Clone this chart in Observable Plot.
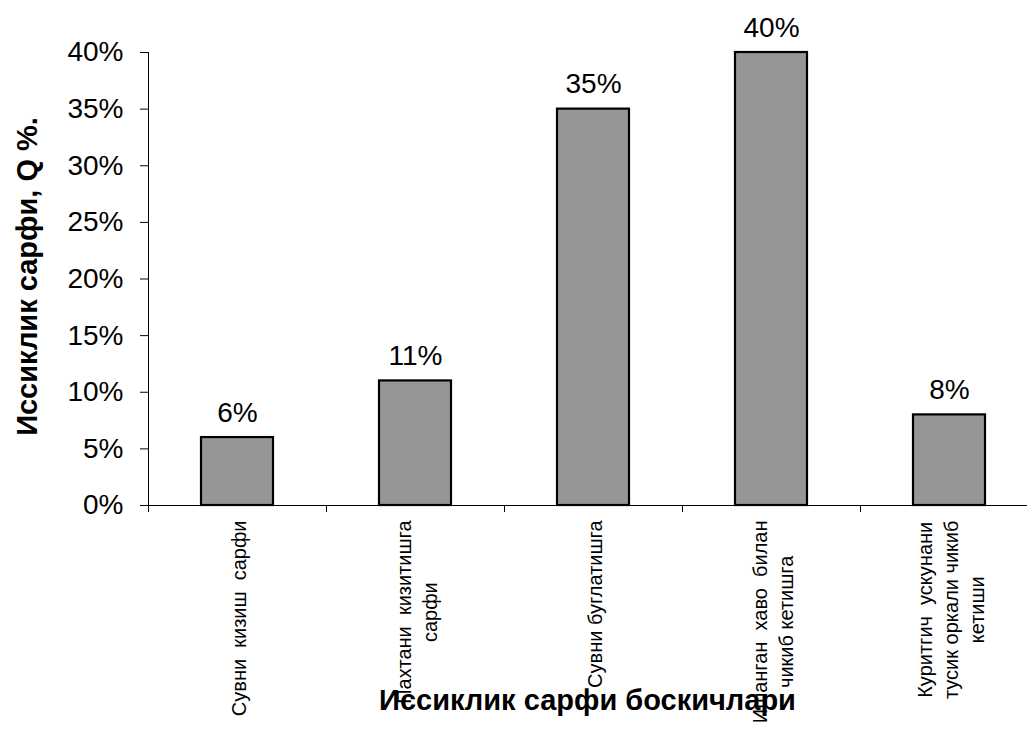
<!DOCTYPE html>
<html>
<head>
<meta charset="utf-8">
<script src="https://cdn.jsdelivr.net/npm/d3@7"></script>
<script src="https://cdn.jsdelivr.net/npm/@observablehq/plot@0.6"></script>
<style>
  html, body { margin: 0; padding: 0; background: #fff; }
  #chart svg { display: block; }
  #chart text { white-space: pre; }
</style>
</head>
<body>
<div id="chart"></div>
<script>
// Heat consumption by stage, %
const categories = [
  "Сувни  кизиш  сарфи",
  "Пахтани  кизитишга\nсарфи",
  "Сувни буглатишга",
  "Ишанган  хаво  билан\nчикиб кетишга",
  "Куритгич  ускунани\nтусик оркали чикиб\nкетиши"
];
const values = [6, 11, 35, 40, 8];
const yTicks = [0, 5, 10, 15, 20, 25, 30, 35, 40];
const bandEdges = [0, 1, 2, 3, 4, 5];
const yTitle = "Иссиклик сарфи, Q %.";
const xTitle = "Иссиклик сарфи боскичлари";

const font = "Liberation Sans, Arial, Helvetica, sans-serif";
const W = 1027, H = 731;
const mLeft = 148, mRight = -11, mTop = 52, mBottom = 226;
const frameMidX = (mLeft + (W - mRight)) / 2;
const frameMidY = (mTop + (H - mBottom)) / 2;

const labelSize = 20;
const ctx = document.createElement("canvas").getContext("2d");
ctx.font = `${labelSize}px "Liberation Sans"`;
const widest = (s) => d3.max(s.split("\n"), (l) => ctx.measureText(l).width);

const rows = values.map((v, i) => ({i, v}));

const chart = Plot.plot({
  width: W,
  height: H,
  marginLeft: mLeft,
  marginRight: mRight,
  marginTop: mTop,
  marginBottom: mBottom,
  style: {fontFamily: font, background: "#fff", color: "#000"},
  x: {type: "linear", domain: [0, categories.length], axis: null},
  y: {domain: [0, 40], axis: null},
  marks: [
    Plot.rectY(rows, {
      x1: "i", x2: (d) => d.i + 1, y1: 0, y2: "v",
      insetLeft: 53, insetRight: 53,
      fill: "#969696", stroke: "#000", strokeWidth: 2.2
    }),
    Plot.ruleY([0], {stroke: "#000", strokeWidth: 1}),
    Plot.ruleX([0], {stroke: "#000", strokeWidth: 1}),
    Plot.axisY({
      ticks: yTicks, tickSize: 8, tickPadding: 17,
      tickFormat: (d) => d + "%", fontSize: 28, label: null, stroke: "#000"
    }),
    Plot.axisX({
      ticks: bandEdges, tickSize: 7, tickFormat: () => "", label: null, stroke: "#000"
    }),
    Plot.text(rows, {
      x: (d) => d.i + 0.5, y: "v", text: (d) => d.v + "%",
      lineAnchor: "bottom", dy: -16, fontSize: 28, fill: "#000"
    }),
    ...categories.map((c, i) => Plot.text([c], {
      x: () => i + 0.5, frameAnchor: "bottom", text: (d) => d,
      rotate: -90, textAnchor: "middle", lineAnchor: "middle",
      lineHeight: 1.3, fontSize: labelSize, fill: "#000",
      dy: 15 + widest(c) / 2
    })),
    Plot.text([yTitle], {
      frameAnchor: "left", text: (d) => d, rotate: -90,
      textAnchor: "middle", lineAnchor: "bottom",
      fontWeight: "bold", fontSize: 29, fill: "#000",
      dx: 36 - mLeft, dy: 276 - frameMidY
    }),
    Plot.text([xTitle], {
      frameAnchor: "bottom", text: (d) => d,
      textAnchor: "middle", lineAnchor: "bottom",
      fontWeight: "bold", fontSize: 29, fill: "#000",
      dx: 587 - frameMidX, dy: 709 - (H - mBottom)
    })
  ]
});
document.getElementById("chart").appendChild(chart);
</script>
</body>
</html>
